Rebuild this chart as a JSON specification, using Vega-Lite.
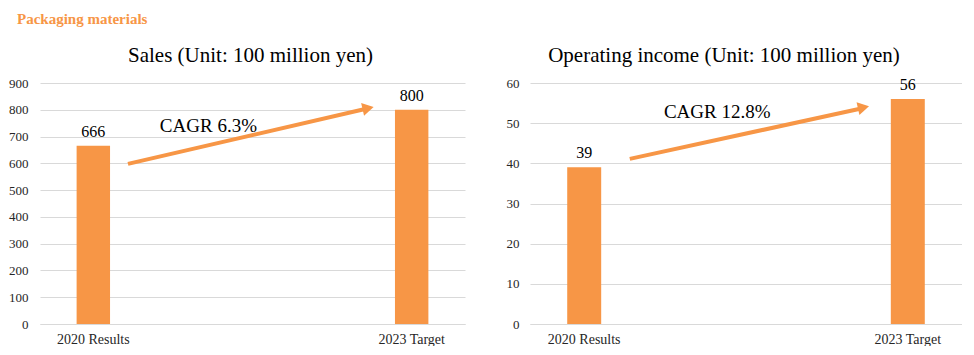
{
  "$schema": "https://vega.github.io/schema/vega-lite/v6.json",
  "background": "white",
  "padding": {"left": 0, "top": 12, "right": 0, "bottom": 0},
  "title": {"text": "Packaging materials", "anchor": "start", "dx": 17, "offset": 18, "font": "Liberation Serif", "fontSize": 15, "fontWeight": "bold", "color": "#F79646"},
  "config": {"view": {"stroke": null}, "font": "Liberation Serif", "concat": {"spacing": 25}, "text": {"font": "Liberation Serif"}},
  "datasets": {
    "sales": [{"cat": "2020 Results", "value": 666}, {"cat": "2023 Target", "value": 800}],
    "income": [{"cat": "2020 Results", "value": 39}, {"cat": "2023 Target", "value": 56}],
    "salesArrow": [{"ax": 0.207, "ay": 598}, {"ax": 0.765, "ay": 803}],
    "salesHead": [{"ax": 0.772, "ay": 806}],
    "salesCagr": [{"ax": 0.282, "ay": 739, "label": "CAGR 6.3%"}],
    "incomeArrow": [{"ax": 0.231, "ay": 41.1}, {"ax": 0.764, "ay": 53.6}],
    "incomeHead": [{"ax": 0.772, "ay": 53.9}],
    "incomeCagr": [{"ax": 0.31, "ay": 52.8, "label": "CAGR 12.8%"}]
  },
  "hconcat": [
    {
      "width": 425,
      "height": 241,
      "title": {"text": "Sales (Unit: 100 million yen)", "fontSize": 21, "fontWeight": "normal", "font": "Liberation Serif", "color": "#000000", "frame": "group", "anchor": "middle", "dx": -2, "offset": 11},
      "layer": [
        {
          "data": {"name": "sales"},
          "encoding": {
            "x": {"field": "cat", "type": "nominal", "sort": null, "scale": {"paddingInner": 0.895, "paddingOuter": 0.115},
              "axis": {"title": null, "labelAngle": 0, "labelFontSize": 14, "labelColor": "#262626", "labelFont": "Liberation Serif", "ticks": false, "tickSize": 0, "labelPadding": 8, "domainColor": "#d9d9d9", "domainWidth": 1}},
            "y": {"field": "value", "type": "quantitative", "scale": {"domain": [0, 900]},
              "axis": {"title": null, "values": [0, 100, 200, 300, 400, 500, 600, 700, 800, 900], "labelFontSize": 13, "labelColor": "#262626", "labelFont": "Liberation Serif", "ticks": false, "tickSize": 0, "labelPadding": 12, "domain": false, "gridColor": "#d9d9d9", "minExtent": 40, "maxExtent": 40}}
          },
          "layer": [
            {"mark": {"type": "bar", "color": "#F79646"}},
            {"mark": {"type": "text", "baseline": "alphabetic", "dy": -9, "fontSize": 16, "font": "Liberation Serif", "color": "#000000"},
             "encoding": {"text": {"field": "value", "type": "quantitative"}}}
          ]
        },
        {
          "layer": [
            {
              "data": {"name": "salesArrow"},
              "mark": {"type": "line", "color": "#F79646", "strokeWidth": 4},
              "encoding": {
                "x": {"field": "ax", "type": "quantitative", "scale": {"domain": [0, 1]}, "axis": null},
                "y": {"field": "ay", "type": "quantitative", "axis": null}
              }
            },
            {
              "data": {"name": "salesHead"},
              "mark": {"type": "point", "shape": "triangle-right", "filled": true, "size": 170, "angle": 347, "color": "#F79646", "opacity": 1},
              "encoding": {
                "x": {"field": "ax", "type": "quantitative", "scale": {"domain": [0, 1]}, "axis": null},
                "y": {"field": "ay", "type": "quantitative", "axis": null}
              }
            },
            {
              "data": {"name": "salesCagr"},
              "mark": {"type": "text", "align": "left", "baseline": "middle", "fontSize": 19, "font": "Liberation Serif", "color": "#000000"},
              "encoding": {
                "x": {"field": "ax", "type": "quantitative", "scale": {"domain": [0, 1]}, "axis": null},
                "y": {"field": "ay", "type": "quantitative", "axis": null},
                "text": {"field": "label"}
              }
            }
          ]
        }
      ],
      "resolve": {"scale": {"x": "independent"}, "axis": {"y": "independent", "x": "independent"}}
    },
    {
      "width": 432,
      "height": 241,
      "title": {"text": "Operating income (Unit: 100 million yen)", "fontSize": 21, "fontWeight": "normal", "font": "Liberation Serif", "color": "#000000", "frame": "group", "anchor": "middle", "dx": -22, "offset": 11},
      "layer": [
        {
          "data": {"name": "income"},
          "encoding": {
            "x": {"field": "cat", "type": "nominal", "sort": null, "scale": {"paddingInner": 0.895, "paddingOuter": 0.115},
              "axis": {"title": null, "labelAngle": 0, "labelFontSize": 14, "labelColor": "#262626", "labelFont": "Liberation Serif", "ticks": false, "tickSize": 0, "labelPadding": 8, "domainColor": "#d9d9d9", "domainWidth": 1}},
            "y": {"field": "value", "type": "quantitative", "scale": {"domain": [0, 60]},
              "axis": {"title": null, "values": [0, 10, 20, 30, 40, 50, 60], "labelFontSize": 13, "labelColor": "#262626", "labelFont": "Liberation Serif", "ticks": false, "tickSize": 0, "labelPadding": 11, "domain": false, "gridColor": "#d9d9d9", "minExtent": 40, "maxExtent": 40}}
          },
          "layer": [
            {"mark": {"type": "bar", "color": "#F79646"}},
            {"mark": {"type": "text", "baseline": "alphabetic", "dy": -9, "fontSize": 16, "font": "Liberation Serif", "color": "#000000"},
             "encoding": {"text": {"field": "value", "type": "quantitative"}}}
          ]
        },
        {
          "layer": [
            {
              "data": {"name": "incomeArrow"},
              "mark": {"type": "line", "color": "#F79646", "strokeWidth": 4},
              "encoding": {
                "x": {"field": "ax", "type": "quantitative", "scale": {"domain": [0, 1]}, "axis": null},
                "y": {"field": "ay", "type": "quantitative", "axis": null}
              }
            },
            {
              "data": {"name": "incomeHead"},
              "mark": {"type": "point", "shape": "triangle-right", "filled": true, "size": 170, "angle": 347.5, "color": "#F79646", "opacity": 1},
              "encoding": {
                "x": {"field": "ax", "type": "quantitative", "scale": {"domain": [0, 1]}, "axis": null},
                "y": {"field": "ay", "type": "quantitative", "axis": null}
              }
            },
            {
              "data": {"name": "incomeCagr"},
              "mark": {"type": "text", "align": "left", "baseline": "middle", "fontSize": 19, "font": "Liberation Serif", "color": "#000000"},
              "encoding": {
                "x": {"field": "ax", "type": "quantitative", "scale": {"domain": [0, 1]}, "axis": null},
                "y": {"field": "ay", "type": "quantitative", "axis": null},
                "text": {"field": "label"}
              }
            }
          ]
        }
      ],
      "resolve": {"scale": {"x": "independent"}, "axis": {"y": "independent", "x": "independent"}}
    }
  ]
}
